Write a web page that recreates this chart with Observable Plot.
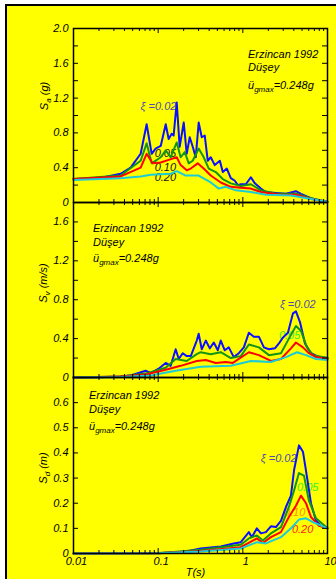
<!DOCTYPE html>
<html><head><meta charset="utf-8">
<script src="https://cdn.jsdelivr.net/npm/d3@7"></script>
<script src="https://cdn.jsdelivr.net/npm/@observablehq/plot@0.6"></script>
<style>
html,body{margin:0;padding:0;background:#fff;}
#fig{position:relative;width:336px;height:579px;overflow:hidden;background:#fff;}
#frame{position:absolute;left:5px;top:4px;width:400px;height:620px;border-left:2px solid #000;border-top:2px solid #000;background:#ffff00;}
#fig svg{position:absolute;left:0;}
</style></head><body><div id="fig"><div id="frame"></div></div>
<script>
// ---------- data ----------
const xMajor = [0.01, 0.1, 1, 10];
const xTickLabels = ["0.01", "0.1", "1", "10"];
const xTitle = "T(s)";
const eventName = "Erzincan 1992";
const componentName = "Düşey";
const pgaSymbol = "ü";
const pgaSub = "gmax";
const pgaValue = "=0.248g";
const dampings = ["0.02", "0.05", "0.10", "0.20"];

// Panel 1: Sa (g)  [period s, value]
const sa002 = [[0.01,0.27],[0.02,0.28],[0.036,0.33],[0.0473,0.40],[0.0621,0.56],[0.0731,0.90],[0.0838,0.56],[0.0933,0.62],[0.1072,0.65],[0.1228,0.90],[0.133,0.73],[0.1445,0.79],[0.1524,0.77],[0.1656,1.15],[0.1795,0.64],[0.2004,0.92],[0.2173,0.56],[0.236,0.75],[0.256,0.64],[0.278,0.52],[0.301,0.92],[0.327,0.75],[0.355,0.77],[0.385,0.48],[0.418,0.52],[0.466,0.43],[0.535,0.48],[0.58,0.35],[0.647,0.39],[0.721,0.28],[0.804,0.25],[0.873,0.20],[0.947,0.21],[1.086,0.21],[1.244,0.29],[1.387,0.22],[1.633,0.16],[1.872,0.12],[2.46,0.11],[3.23,0.10],[4.24,0.13],[4.86,0.10],[6.38,0.05],[8.38,0.02],[10,0.01]];
const sa005 = [[0.01,0.27],[0.036,0.31],[0.0621,0.48],[0.0731,0.68],[0.0838,0.45],[0.1072,0.52],[0.1228,0.60],[0.1406,0.52],[0.1656,0.69],[0.1845,0.52],[0.206,0.58],[0.2296,0.45],[0.256,0.48],[0.301,0.62],[0.345,0.52],[0.396,0.39],[0.479,0.35],[0.58,0.27],[0.721,0.22],[0.947,0.19],[1.244,0.21],[1.633,0.14],[2.46,0.10],[4.24,0.10],[6.38,0.05],[10,0.01]];
const sa010 = [[0.01,0.27],[0.036,0.30],[0.0621,0.40],[0.0731,0.56],[0.0861,0.45],[0.1072,0.46],[0.133,0.49],[0.1656,0.52],[0.1845,0.43],[0.2173,0.37],[0.2427,0.39],[0.293,0.45],[0.345,0.39],[0.418,0.31],[0.549,0.23],[0.721,0.18],[0.947,0.17],[1.244,0.16],[1.633,0.12],[2.82,0.09],[4.24,0.09],[6.38,0.04],[10,0.01]];
const sa020 = [[0.01,0.26],[0.036,0.28],[0.0621,0.30],[0.0815,0.32],[0.1406,0.33],[0.1656,0.36],[0.2114,0.31],[0.301,0.31],[0.418,0.23],[0.52,0.16],[0.629,0.18],[0.826,0.14],[1.244,0.12],[1.872,0.09],[3.70,0.08],[6.38,0.04],[10,0.01]];

// Panel 2: Sv (m/s)
const sv002 = [[0.01,0],[0.0209,0.003],[0.036,0.01],[0.0473,0.02],[0.0711,0.07],[0.0815,0.045],[0.1014,0.09],[0.1228,0.15],[0.1406,0.12],[0.161,0.29],[0.175,0.19],[0.195,0.25],[0.2173,0.22],[0.2427,0.22],[0.2857,0.38],[0.301,0.45],[0.327,0.29],[0.365,0.38],[0.407,0.30],[0.454,0.36],[0.506,0.28],[0.549,0.38],[0.612,0.28],[0.683,0.31],[0.782,0.21],[0.897,0.25],[1.028,0.31],[1.178,0.46],[1.35,0.42],[1.547,0.42],[1.773,0.31],[2.032,0.29],[2.39,0.30],[2.67,0.35],[2.97,0.41],[3.41,0.46],[3.91,0.66],[4.24,0.68],[4.73,0.57],[5.42,0.35],[6.38,0.25],[7.93,0.21],[10,0.20]];
const sv005 = [[0.01,0],[0.036,0.01],[0.0711,0.04],[0.1228,0.10],[0.161,0.19],[0.2173,0.17],[0.2857,0.24],[0.318,0.26],[0.418,0.24],[0.549,0.26],[0.721,0.20],[0.947,0.22],[1.178,0.34],[1.547,0.31],[2.032,0.23],[2.82,0.25],[3.50,0.40],[4.24,0.53],[4.86,0.48],[5.72,0.31],[6.73,0.23],[10,0.20]];
const sv010 = [[0.01,0],[0.036,0.01],[0.0711,0.03],[0.1228,0.08],[0.1845,0.12],[0.2857,0.17],[0.365,0.18],[0.479,0.15],[0.629,0.16],[0.762,0.15],[1.178,0.26],[1.547,0.23],[2.145,0.17],[2.82,0.19],[3.70,0.30],[4.24,0.36],[5.13,0.31],[6.04,0.25],[7.31,0.21],[10,0.19]];
const sv020 = [[0.01,0],[0.036,0.005],[0.0815,0.02],[0.161,0.07],[0.318,0.11],[0.721,0.12],[1.244,0.17],[2.145,0.16],[3.23,0.21],[4.36,0.26],[5.57,0.23],[7.31,0.19],[10,0.18]];

// Panel 3: Sd (m)
const sd002 = [[0.01,0],[0.1,0.002],[0.2,0.006],[0.318,0.02],[0.549,0.028],[0.782,0.04],[0.947,0.045],[1.178,0.085],[1.278,0.065],[1.465,0.10],[1.633,0.08],[1.872,0.085],[2.145,0.108],[2.46,0.105],[2.82,0.13],[3.23,0.185],[3.70,0.23],[4.02,0.33],[4.60,0.43],[5.13,0.405],[5.72,0.305],[6.38,0.20],[7.31,0.13],[8.38,0.11],[10,0.10]];
const sd005 = [[0.01,0],[0.1,0.001],[0.318,0.015],[0.947,0.035],[1.178,0.06],[1.465,0.072],[1.725,0.052],[2.145,0.08],[2.82,0.105],[3.50,0.185],[4.02,0.25],[4.60,0.32],[5.27,0.31],[6.04,0.21],[7.31,0.14],[10,0.10]];
const sd010 = [[0.01,0],[0.1,0.001],[0.318,0.01],[0.947,0.025],[1.465,0.06],[1.725,0.042],[2.145,0.065],[2.82,0.085],[3.50,0.145],[4.24,0.19],[4.86,0.23],[5.57,0.20],[6.38,0.145],[7.93,0.11],[10,0.10]];
const sd020 = [[0.01,0],[0.1,0.001],[0.318,0.008],[0.947,0.02],[1.465,0.045],[1.872,0.04],[2.82,0.065],[3.70,0.10],[4.60,0.135],[5.57,0.14],[6.73,0.125],[10,0.10]];

const saTicks = [0,0.2,0.4,0.6,0.8,1.0,1.2,1.4,1.6,1.8,2.0];
const saTickLabels = ["0","0.4","0.8","1.2","1.6","2.0"];
const svTicks = [0,0.2,0.4,0.6,0.8,1.0,1.2,1.4,1.6,1.8];
const svTickLabels = ["0","0.4","0.8","1.2","1.6"];
const sdTicks = [0,0.1,0.2,0.3,0.4,0.5,0.6,0.7];
const sdTickLabels = ["0","0.1","0.2","0.3","0.4","0.5","0.6"];

// ---------- drawing ----------
const colors = {"0.02":"#0a10ff","0.05":"#149414","0.10":"#ff0000","0.20":"#1ccbd8"};
const FONT = "'Liberation Sans', Arial, sans-serif";
const xMinor = [];
for (const d of [0.01, 0.1, 1]) for (let k = 2; k <= 9; k++) xMinor.push(d * k);

function panel(cfg) {
  const W = 336 - 73 - 9;
  const H = cfg.height - cfg.marginTop - cfg.marginBottom;
  const f = {fontFamily: FONT, fontStyle: "italic", fontSize: 11};
  const marks = [];
  for (const l of cfg.labels) {
    marks.push(Plot.text([l], {x: "T", y: "v", text: "text", fill: l.color, textAnchor: "start", ...f}));
  }
  cfg.series.forEach((data, i) => {
    marks.push(Plot.line(data, {x: d => d[0], y: d => d[1], stroke: colors[dampings[i]], strokeWidth: 2}));
  });
  marks.push(
    Plot.tickX(xMajor, {x: d => d, insetTop: H - 5}),
    Plot.tickX(xMajor, {x: d => d, insetBottom: H - 5}),
    Plot.tickX(xMinor, {x: d => d, insetTop: H - 3}),
    Plot.tickX(xMinor, {x: d => d, insetBottom: H - 3}),
    Plot.tickY(cfg.yTicks, {y: d => d, insetRight: W - 5}),
    Plot.tickY(cfg.yTicks, {y: d => d, insetLeft: W - 5}),
    Plot.frame({strokeWidth: 1.5}),
    Plot.text(cfg.yTickLabels, {y: d => +d, text: d => d, frameAnchor: "left", textAnchor: "end", dx: -5, ...f})
  );
  if (cfg.xLabels) {
    marks.push(
      Plot.text(xMajor, {x: d => d, text: (d, i) => xTickLabels[i], frameAnchor: "bottom", dy: 11, dx: 3, ...f}),
      Plot.text([xTitle], {text: d => d, frameAnchor: "bottom", dy: 22, dx: -5, ...f})
    );
  }
  const svg = Plot.plot({
    width: 336, height: cfg.height,
    marginLeft: 73, marginRight: 9, marginTop: cfg.marginTop, marginBottom: cfg.marginBottom,
    style: {background: "transparent", overflow: "visible", fontFamily: FONT},
    x: {type: "log", domain: [0.01, 10], axis: null},
    y: {domain: cfg.yDomain, axis: null},
    marks
  });
  svg.style.top = cfg.top + "px";
  const s = d3.select(svg);
  // y title with subscript
  const yl = s.append("text")
    .attr("transform", `translate(${cfg.yTitlePos[0]},${cfg.yTitlePos[1]}) rotate(-90)`)
    .attr("text-anchor", "middle").attr("font-family", FONT).attr("font-style", "italic").attr("font-size", 11);
  yl.append("tspan").text("S");
  yl.append("tspan").attr("font-size", 8).attr("dy", 3).text(cfg.yTitle[0]);
  yl.append("tspan").attr("dy", -3).text(" " + cfg.yTitle[1]);
  // annotation
  const [ax, b1, b2, b3] = cfg.anno;
  const at = (y) => s.append("text").attr("x", ax).attr("y", y).attr("text-anchor", "start")
    .attr("font-family", FONT).attr("font-style", "italic").attr("font-size", 11);
  at(b1).text(eventName);
  at(b2).text(componentName);
  const t3 = at(b3);
  t3.append("tspan").text(pgaSymbol);
  t3.append("tspan").attr("font-size", 8).attr("dy", 3).text(pgaSub);
  t3.append("tspan").attr("dy", -3).text(pgaValue);
  document.getElementById("fig").appendChild(svg);
}

const slate = "#4c4cb0";
panel({
  top: 0, height: 210, marginTop: 28, marginBottom: 8,
  yDomain: [0, 2], yTicks: saTicks, yTickLabels: saTickLabels,
  series: [sa002, sa005, sa010, sa020],
  yTitle: ["a", "(g)"], yTitlePos: [48, 96],
  anno: [248, 58, 71, 89],
  labels: [
    {T: 0.062, v: 1.10, text: "ξ =0.02", color: slate},
    {T: 0.091, v: 0.563, text: "0.05", color: "#111"},
    {T: 0.091, v: 0.40, text: "0.10", color: "#111"},
    {T: 0.091, v: 0.287, text: "0.20", color: "#111"}
  ]
});
panel({
  top: 190, height: 195, marginTop: 12, marginBottom: 8,
  yDomain: [0, 1.8], yTicks: svTicks, yTickLabels: svTickLabels,
  series: [sv002, sv005, sv010, sv020],
  yTitle: ["v", "(m/s)"], yTitlePos: [47, 93],
  anno: [93, 42, 55.5, 72],
  labels: [
    {T: 2.74, v: 0.75, text: "ξ =0.02", color: slate},
    {T: 2.67, v: 0.43, text: "0.05", color: "#33ee33"}
  ]
});
panel({
  top: 365, height: 214, marginTop: 12, marginBottom: 26,
  yDomain: [0, 0.7], yTicks: sdTicks, yTickLabels: sdTickLabels,
  series: [sd002, sd005, sd010, sd020],
  yTitle: ["d", "(m)"], yTitlePos: [47, 103],
  anno: [89, 34, 48, 65],
  xLabels: true,
  labels: [
    {T: 1.63, v: 0.376, text: "ξ =0.02", color: slate},
    {T: 4.36, v: 0.264, text: "0.05", color: "#33ee33"},
    {T: 3.05, v: 0.164, text: "0.10", color: "#ff8c00"},
    {T: 3.80, v: 0.096, text: "0.20", color: "#ff2020"}
  ]
});
</script></body></html>
